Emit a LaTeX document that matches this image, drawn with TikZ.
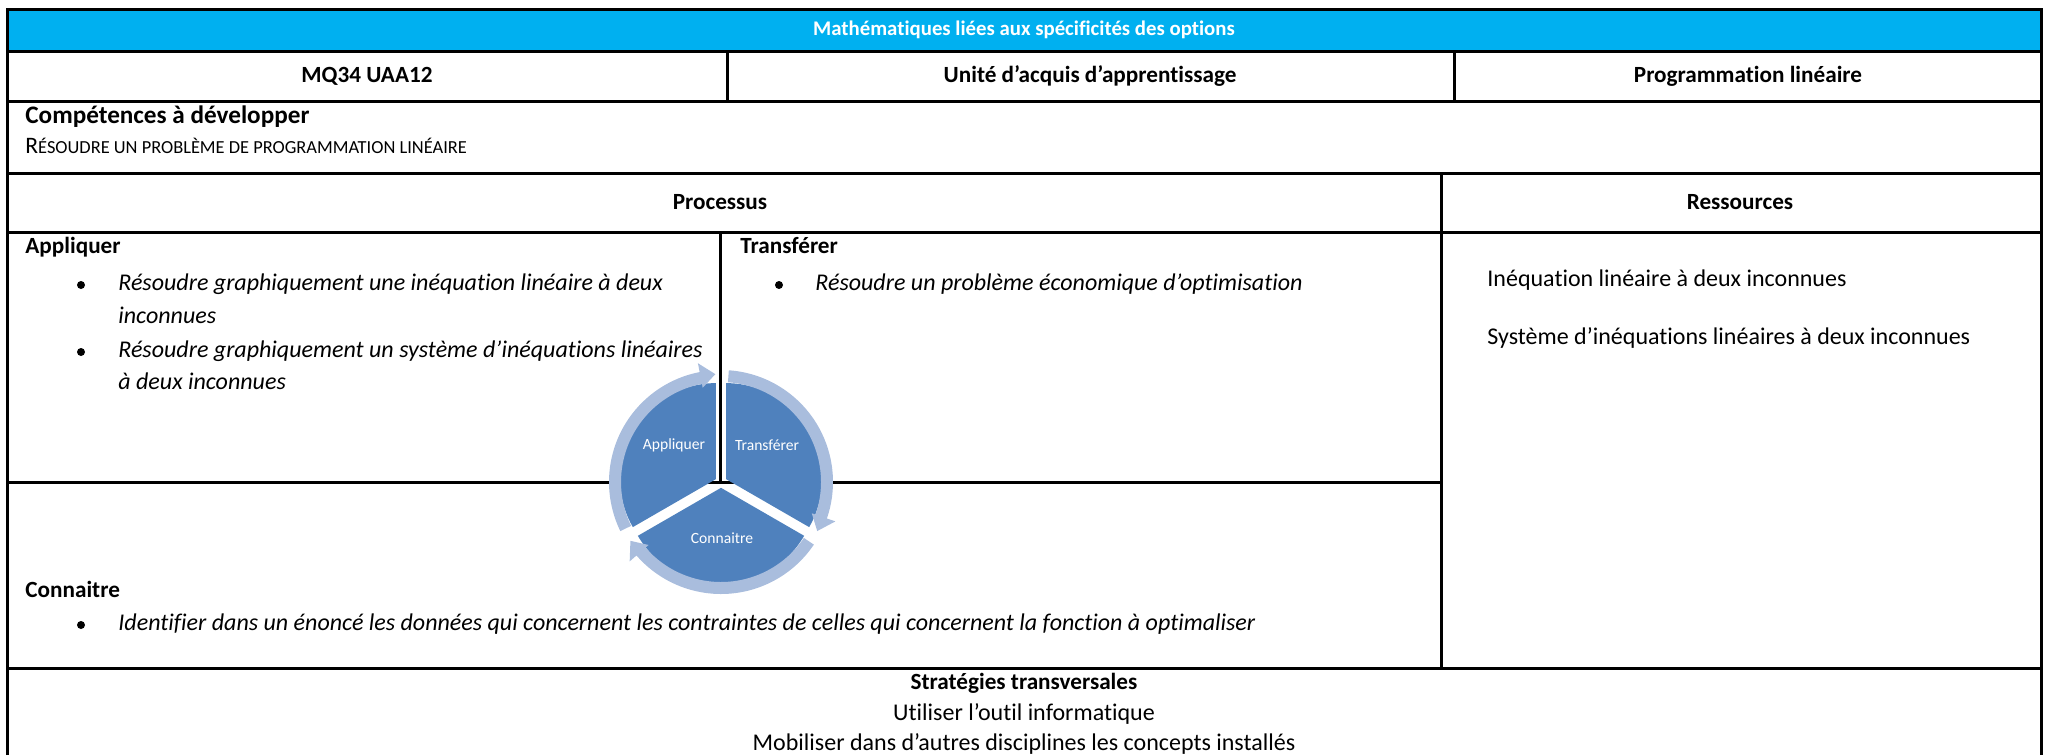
\documentclass[tikz,border=0pt]{standalone}
\usepackage{fontspec}
\setmainfont{Carlito}[Ligatures=NoCommon]
\definecolor{titlebar}{HTML}{00B0F0}
\definecolor{segdark}{HTML}{4F81BD}
\definecolor{seglight}{HTML}{A9BDDD}
\newcommand\fakesc[2]{{\fontsize{11.8}{14}\selectfont #1}{\fontsize{9.2}{11}\selectfont #2}}
\tikzset{
  rule/.style={line width=1.5pt},
  hd/.style={font=\fontsize{11.6}{14}\selectfont\bfseries, inner sep=0, text height=0.7em, text depth=0.2em},
  txt/.style={font=\fontsize{12}{14}\selectfont, inner sep=0, anchor=west, text height=0.7em, text depth=0.2em},
  itx/.style={txt, font=\fontsize{12}{14}\selectfont\itshape},
  dot/.style={circle, fill=black, inner sep=0, minimum size=4pt},
  seglabel/.style={font=\fontsize{7.8}{9}\selectfont, text=white, inner sep=0},
}

\begin{document}
\begin{tikzpicture}[x=0.5pt, y=-0.5pt]
\useasboundingbox (0,0) rectangle (2049,755);
\fill[titlebar] (7,9) rectangle (2041,51);
\draw[rule] (7,755) -- (7,9) -- (2041,9) -- (2041,755);
\foreach \y in {51,101,173,232,668}
  \draw[rule] (7,\y) -- (2041,\y);
\draw[rule] (727,51) -- (727,101);
\draw[rule] (1454,51) -- (1454,101);
\draw[rule] (1441,173) -- (1441,668);
\draw[rule] (7,482) -- (1441,482);
\draw[rule] (720,232) -- (720,482);

\node[hd, text=white, font=\fontsize{10.4}{12}\selectfont\bfseries] (titre) at (1024,30) {Mathématiques liées aux spécificités des options};
\node[hd] (code) at (367,77) {MQ34 UAA12};
\node[hd] (unite) at (1090,77) {Unité d’acquis d’apprentissage};
\node[hd] (theme) at (1748,77) {Programmation linéaire};
\node[hd, anchor=west, font=\fontsize{12.6}{14}\selectfont\bfseries] (comp) at (25,118) {Compétences à développer};
\node[txt] (compt) at (25,148) {\fakesc{R}{ÉSOUDRE UN PROBLÈME DE PROGRAMMATION LINÉAIRE}};
\node[hd] (proc) at (720,204) {Processus};
\node[hd] (res) at (1740,204) {Ressources};

\node[hd, anchor=west] (app) at (25,248) {Appliquer};
\node[dot] (d1) at (81,285) {};
\node[itx] (a1) at (118,285) {Résoudre graphiquement une inéquation linéaire à deux};
\node[itx] (a1b) at (118,318) {inconnues};
\node[dot] (d2) at (81,352) {};
\node[itx] (a2) at (118,352) {Résoudre graphiquement un système d’inéquations linéaires};
\node[itx] (a2b) at (118,384) {à deux inconnues};

\node[hd, anchor=west] (tra) at (740,248) {Transférer};
\node[dot] (d3) at (779,285) {};
\node[itx] (t1) at (815,285) {Résoudre un problème économique d’optimisation};

\node[hd, anchor=west] (con) at (25,592) {Connaitre};
\node[dot] (d4) at (81,625) {};
\node[itx] (c1) at (118,625) {Identifier dans un énoncé les données qui concernent les contraintes de celles qui concernent la fonction à optimaliser};

\node[txt] (r1) at (1487,281) {Inéquation linéaire à deux inconnues};
\node[txt] (r2) at (1487,339) {Système d’inéquations linéaires à deux inconnues};

\node[hd] (strat) at (1024,684) {Stratégies transversales};
\node[txt, anchor=center] (s1) at (1024,715) {Utiliser l’outil informatique};
\node[txt, anchor=center] (s2) at (1024,745) {Mobiliser dans d’autres disciplines les concepts installés};

\begin{scope}[shift={(721,482)}, yscale=-1]
  \foreach \b in {150,30,270} {
    \fill[segdark, shift={(\b:5.8)}] (0,0) -- (\b+60:96) arc[start angle=\b+60, end angle=\b-60, radius=96] -- cycle;
    \fill[seglight] (\b+56:112) arc[start angle=\b+56, end angle=\b-49, radius=112]
      -- (\b-49:121) -- (\b-57:108) -- (\b-49:96) -- (\b-49:100)
      arc[start angle=\b-49, end angle=\b+56, radius=100] -- cycle;
  }
  \node[seglabel] (lapp) at (-47,37) {Appliquer};
  \node[seglabel] (ltra) at (46,37) {Transférer};
  \node[seglabel] (lcon) at (1,-56) {Connaitre};
\end{scope}
\end{tikzpicture}
\end{document}
